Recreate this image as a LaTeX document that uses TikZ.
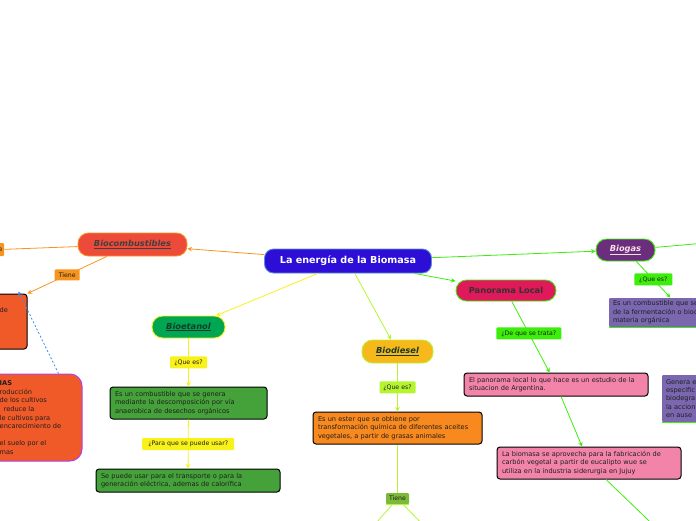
\documentclass[tikz,border=0pt]{standalone}
\usepackage{fontspec}
\setmainfont{DejaVu Sans}
\usetikzlibrary{arrows.meta}

\definecolor{titleblue}{RGB}{44,14,214}
\definecolor{titleline}{RGB}{90,143,216}
\definecolor{biored}{RGB}{238,74,58}
\definecolor{orng}{RGB}{247,148,29}
\definecolor{boxorng}{RGB}{240,90,40}
\definecolor{dieselorng}{RGB}{247,137,31}
\definecolor{etagreen}{RGB}{0,166,81}
\definecolor{boxgreen}{RGB}{69,162,58}
\definecolor{yell}{RGB}{248,242,26}
\definecolor{dieselyel}{RGB}{246,184,26}
\definecolor{lime}{RGB}{181,245,48}
\definecolor{olive}{RGB}{124,187,58}
\definecolor{brightgreen}{RGB}{60,238,10}
\definecolor{crimson}{RGB}{224,25,90}
\definecolor{pinkbox}{RGB}{243,132,169}
\definecolor{gaspurple}{RGB}{106,46,125}
\definecolor{boxpurple}{RGB}{122,103,176}
\definecolor{edgepurple}{RGB}{176,64,240}
\definecolor{dotblue}{RGB}{61,142,232}
\definecolor{txtdark}{RGB}{30,30,30}
\definecolor{topicdark}{RGB}{20,58,42}

\begin{document}
\begin{tikzpicture}[x=1pt,y=-1pt,
    topic/.style={draw, line width=0.9pt, rounded corners=10.5pt, inner sep=0pt,
        font=\fontsize{8.3}{10}\selectfont\bfseries\itshape, text=topicdark},
    box/.style={draw=black, line width=1pt, rounded corners=3pt, inner xsep=5pt,
        inner ysep=0pt, align=left, font=\fontsize{6.6}{8.4}\selectfont, text=txtdark},
    lab/.style={inner sep=0pt, rounded corners=1pt, font=\fontsize{6.2}{7}\selectfont,
        text=txtdark, minimum height=12pt},
    link/.style={line width=0.8pt},
    tip/.style={-{Stealth[length=4.5pt,width=4.5pt]}}
]
    \useasboundingbox (0,0) rectangle (696,520);
    \clip (0,0) rectangle (696,520);

    % main topic and branches
    \node[topic, fill=titleblue, draw=titleline, rounded corners=9pt, text=white,
        font=\fontsize{9.6}{11}\selectfont\bfseries, minimum width=167pt, minimum height=24pt]
        (title) at (348,261) {La energía de la Biomasa};
    \node[topic, fill=biored, draw=orng, text=black!75, minimum width=109pt, minimum height=23pt]
        (biocomb) at (132.5,244.5) {\underline{Biocombustibles}};
    \node[topic, fill=etagreen, draw=yell, minimum width=73pt, minimum height=22pt]
        (bioetanol) at (188.5,327) {\underline{Bioetanol}};
    \node[topic, fill=dieselyel, draw=lime, minimum width=71pt, minimum height=23pt]
        (biodiesel) at (397.5,351.5) {\underline{Biodiesel}};
    \node[topic, fill=crimson, draw=brightgreen, font=\fontsize{8.3}{10}\selectfont\bfseries,
        text=black!80, minimum width=100pt, minimum height=21pt]
        (panorama) at (506,290.5) {Panorama Local};
    \node[topic, fill=gaspurple, draw=brightgreen, text=white!88!purple,
        minimum width=59pt, minimum height=22pt]
        (biogas) at (625.5,250) {\underline{Biogas}};

    % boxes
    \node[box, fill=boxorng, minimum width=87pt, minimum height=55pt] (upbox) at (-16.5,321.5) {};
    \node[anchor=base west, inner sep=0pt, font=\fontsize{6.6}{8.4}\selectfont, text=txtdark]
        at (-0.5,312) {de};
    \node[box, fill=boxorng, draw=edgepurple, rounded corners=12pt, minimum width=162pt,
        minimum height=87pt] (lowbox) at (1,417.5) {};
    \node[anchor=north west, inner sep=0pt, align=left, font=\fontsize{6.6}{8.6}\selectfont,
        text=txtdark] at (-0.5,380.5)
        {\textbf{IAS}\\roducción\\de los cultivos\\\hspace*{4pt}reduce la\\le cultivos para\\
         encarecimiento de\\\mbox{}\\el suelo por el\\mas};
    \node[box, fill=boxgreen, text width=147pt, minimum height=32pt] (etaA) at (188.5,403)
        {Es un combustible que se genera\\mediante la descomposición por vía\\anaerobica de desechos orgánicos};
    \node[box, fill=boxgreen, text width=174pt, minimum height=23pt] (etaB) at (188,480.5)
        {Se puede usar para el transporte o para la\\generación eléctrica, ademas de calorífica};
    \node[box, fill=dieselorng, text width=159pt, minimum height=32pt] (dbox) at (397.5,428)
        {Es un ester que se obtiene por\\transformación química de diferentes aceites\\vegetales, a partir de grasas animales};
    \node[box, fill=pinkbox, text width=174pt, minimum height=23pt] (pboxA) at (556,384.5)
        {El panorama local lo que hace es un estudio de la\\situacion de Argentina.};
    \node[box, fill=pinkbox, text width=174pt, minimum height=32pt] (pboxB) at (589,463)
        {La biomasa se aprovecha para la fabricación de\\carbón vegetal a partir de eucalipto wue se\\utiliza en la industria siderurgia en Jujuy};
    \node[box, draw=none, fill=boxpurple, rounded corners=1pt, inner xsep=4pt, text width=143pt,
        minimum height=29pt] (gasA) at (684.5,312.5)
        {Es un combustible que se\\de la fermentación o biod\\materia orgánica};
    \draw[brightgreen, line width=1.5pt] (gasA.south west) -- (gasA.south east);
    \node[box, draw=none, fill=boxpurple, rounded corners=1pt, inner xsep=4pt, text width=130pt,
        minimum height=47pt] (gasB) at (731,398.5)
        {Genera e\\especific\\biodegra\\la accion\\en ause};
    \draw[brightgreen, line width=1.5pt] (gasB.south west) -- (gasB.south east);

    % free ends
    \coordinate (offleft) at (-40,251);
    \coordinate (offright) at (740,240);
    \coordinate (dieselL) at (370,530);
    \coordinate (dieselR) at (428,530);
    \coordinate (panoEnd) at (660,531.5);

    % connectors
    \draw[link, tip, orng] (title) -- (biocomb);
    \draw[link, orng] (biocomb) -- (offleft);
    \node[lab, fill=orng, text width=20pt, align=right, inner xsep=1.5pt, minimum height=13pt]
        (leftlab) at (-7.5,249.5) {e};
    \draw[link, tip, orng] (biocomb) -- node[lab, fill=orng, minimum width=25pt, minimum height=11pt] (tieneA) {Tiene} (upbox.north east);
    \draw[link, tip, dotblue, dash pattern=on 2pt off 2pt]
        ([xshift=-24pt]lowbox.north east) -- ([xshift=-9pt,yshift=2pt]upbox.north east);

    \draw[link, tip, yell] (title) -- (bioetanol);
    \draw[link, tip, yell] (bioetanol) -- node[lab, fill=yell, minimum width=37pt] (queA) {¿Que es?} (etaA);
    \draw[link, tip, yell] (etaA) -- node[lab, fill=yell, minimum width=92pt] (paraQue) {¿Para que se puede usar?} (etaB);

    \draw[link, tip, lime] (title) -- (biodiesel);
    \draw[link, tip, lime] (biodiesel) -- node[lab, fill=lime, minimum width=36pt] (queB) {¿Que es?} (dbox);
    \draw[link, lime] (dbox) -- (397.5,493);
    \node[lab, fill=olive, minimum width=23pt, minimum height=11pt] (tieneB) at (397.5,498.5) {Tiene};
    \draw[lime, line width=1pt] (tieneB.south west) -- (tieneB.south east);
    \draw[link, lime] (tieneB) -- (dieselL);
    \draw[link, lime] (tieneB) -- (dieselR);

    \draw[link, tip, brightgreen] (title) -- (panorama);
    \draw[link, tip, brightgreen] (panorama) -- node[lab, fill=brightgreen, minimum width=65pt, pos=0.45] (trata) {¿De que se trata?} (pboxA);
    \draw[link, tip, brightgreen] (pboxA) -- (pboxB);
    \draw[link, brightgreen] (pboxB) -- (panoEnd);

    \draw[link, tip, brightgreen] (title) -- (biogas);
    \draw[link, brightgreen] (biogas) -- (offright);
    \draw[link, tip, brightgreen] (biogas) -- node[lab, fill=brightgreen, minimum width=38pt] (queC) {¿Que es?} (gasA);
\end{tikzpicture}
\end{document}
